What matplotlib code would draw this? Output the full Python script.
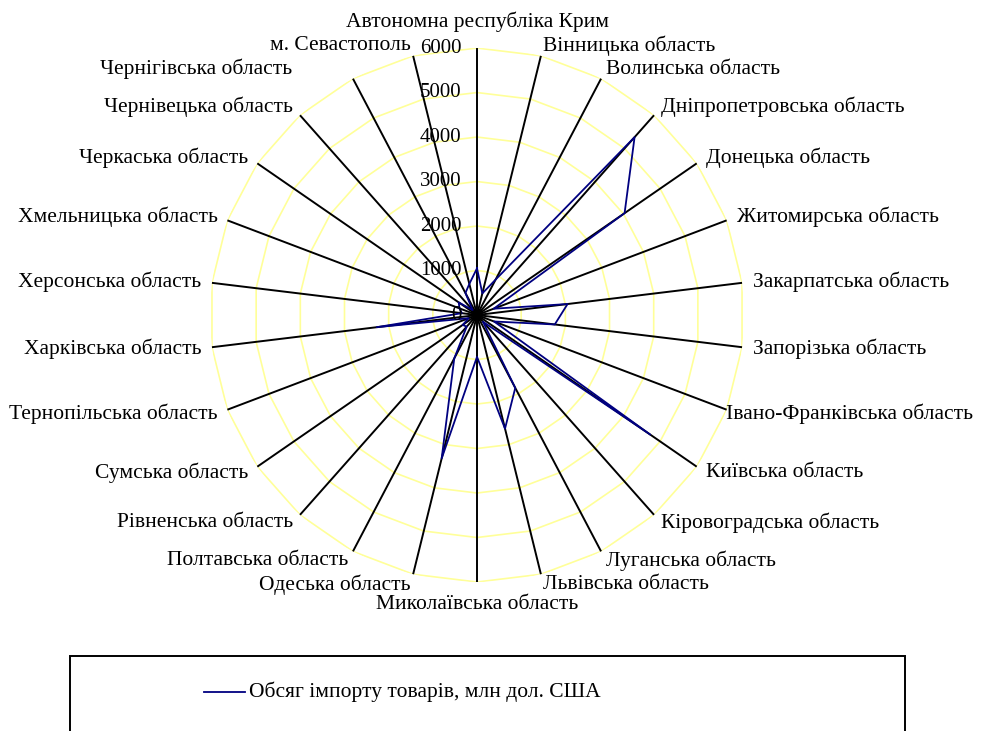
import numpy as np
import matplotlib
matplotlib.use("Agg")
import matplotlib.pyplot as plt
from matplotlib.lines import Line2D
from matplotlib.patches import Rectangle

plt.rcParams['font.family'] = ['Liberation Serif', 'DejaVu Serif']

# regions, clockwise from the top
regions = [
    "Автономна республіка Крим", "Вінницька область", "Волинська область",
    "Дніпропетровська область", "Донецька область", "Житомирська область",
    "Закарпатська область", "Запорізька область", "Івано-Франківська область",
    "Київська область", "Кіровоградська область", "Луганська область",
    "Львівська область", "Миколаївська область", "Одеська область",
    "Полтавська область", "Рівненська область", "Сумська область",
    "Тернопільська область", "Харківська область", "Херсонська область",
    "Хмельницька область", "Черкаська область", "Чернівецька область",
    "Чернігівська область", "м. Севастополь",
]
# import volume, mln USD
imports = [1050, 500, 900, 5340, 4030, 400, 2050, 1760, 410, 4730, 200, 1850,
           2630, 940, 3320, 1100, 350, 390, 200, 2270, 345, 420, 500, 150,
           560, 720]
ticks = [0, 1000, 2000, 3000, 4000, 5000, 6000]
series_name = "Обсяг імпорту товарів, млн дол. США"

n = len(regions)
angles = np.arange(n) * 2 * np.pi / n
rmax = ticks[-1]

fig = plt.figure(figsize=(9.81, 7.31), dpi=100)
ax = fig.add_axes([0.2141, 0.2038, 0.5443, 0.7305], projection="polar")
ax.set_theta_zero_location("N")
ax.set_theta_direction(-1)
ax.set_ylim(0, rmax)
ax.set_xticks([])
ax.set_yticks([])
ax.grid(False)
ax.spines["polar"].set_visible(False)
ax.patch.set_visible(False)

closed = np.append(angles, angles[0])

# polygon gridlines
for t in ticks[1:]:
    ax.plot(closed, [t] * (n + 1), color="#FFFF99", lw=1.2, zorder=1)

# spokes
for a in angles:
    ax.plot([a, a], [0, rmax], color="black", lw=1.4, zorder=2)

# data
vals = np.append(imports, imports[0])
line, = ax.plot(closed, vals, color="#000080", lw=1.3, zorder=3)

# value axis labels
for t in ticks:
    ax.annotate(str(t), xy=(0, t), xytext=(-11, 0), textcoords="offset points",
                ha="right", va="center", fontsize=15, zorder=4,
                annotation_clip=False)

# category labels (a couple are nudged the way Excel placed them)
nudge = {"Чернігівська область": -40, "Івано-Франківська область": -8}
for a, name in zip(angles, regions):
    s, c = np.sin(a), np.cos(a)
    if abs(s) < 0.05:
        ha = "center"
        va = "bottom" if c > 0 else "top"
        r = rmax * (1.06 if c > 0 else 1.05)
    else:
        ha = "left" if s > 0 else "right"
        va = "center"
        r = rmax * 1.04
    ax.annotate(name, xy=(a, r), xytext=(nudge.get(name, 0), 0),
                textcoords="offset points", ha=ha, va=va, fontsize=15.5,
                annotation_clip=False)

# legend box
fig.add_artist(Rectangle((70 / 981, -0.05), 835 / 981, 0.05 + 75 / 731,
                         transform=fig.transFigure, fill=False,
                         edgecolor="black", lw=1.4))
ly = 1 - 692 / 731
fig.add_artist(Line2D([204 / 981, 245 / 981], [ly, ly], color="#000080", lw=1.3,
                      transform=fig.transFigure))
fig.text(249 / 981, ly, series_name, ha="left", va="center", fontsize=15.5)

fig.savefig("out.png", dpi=100)
